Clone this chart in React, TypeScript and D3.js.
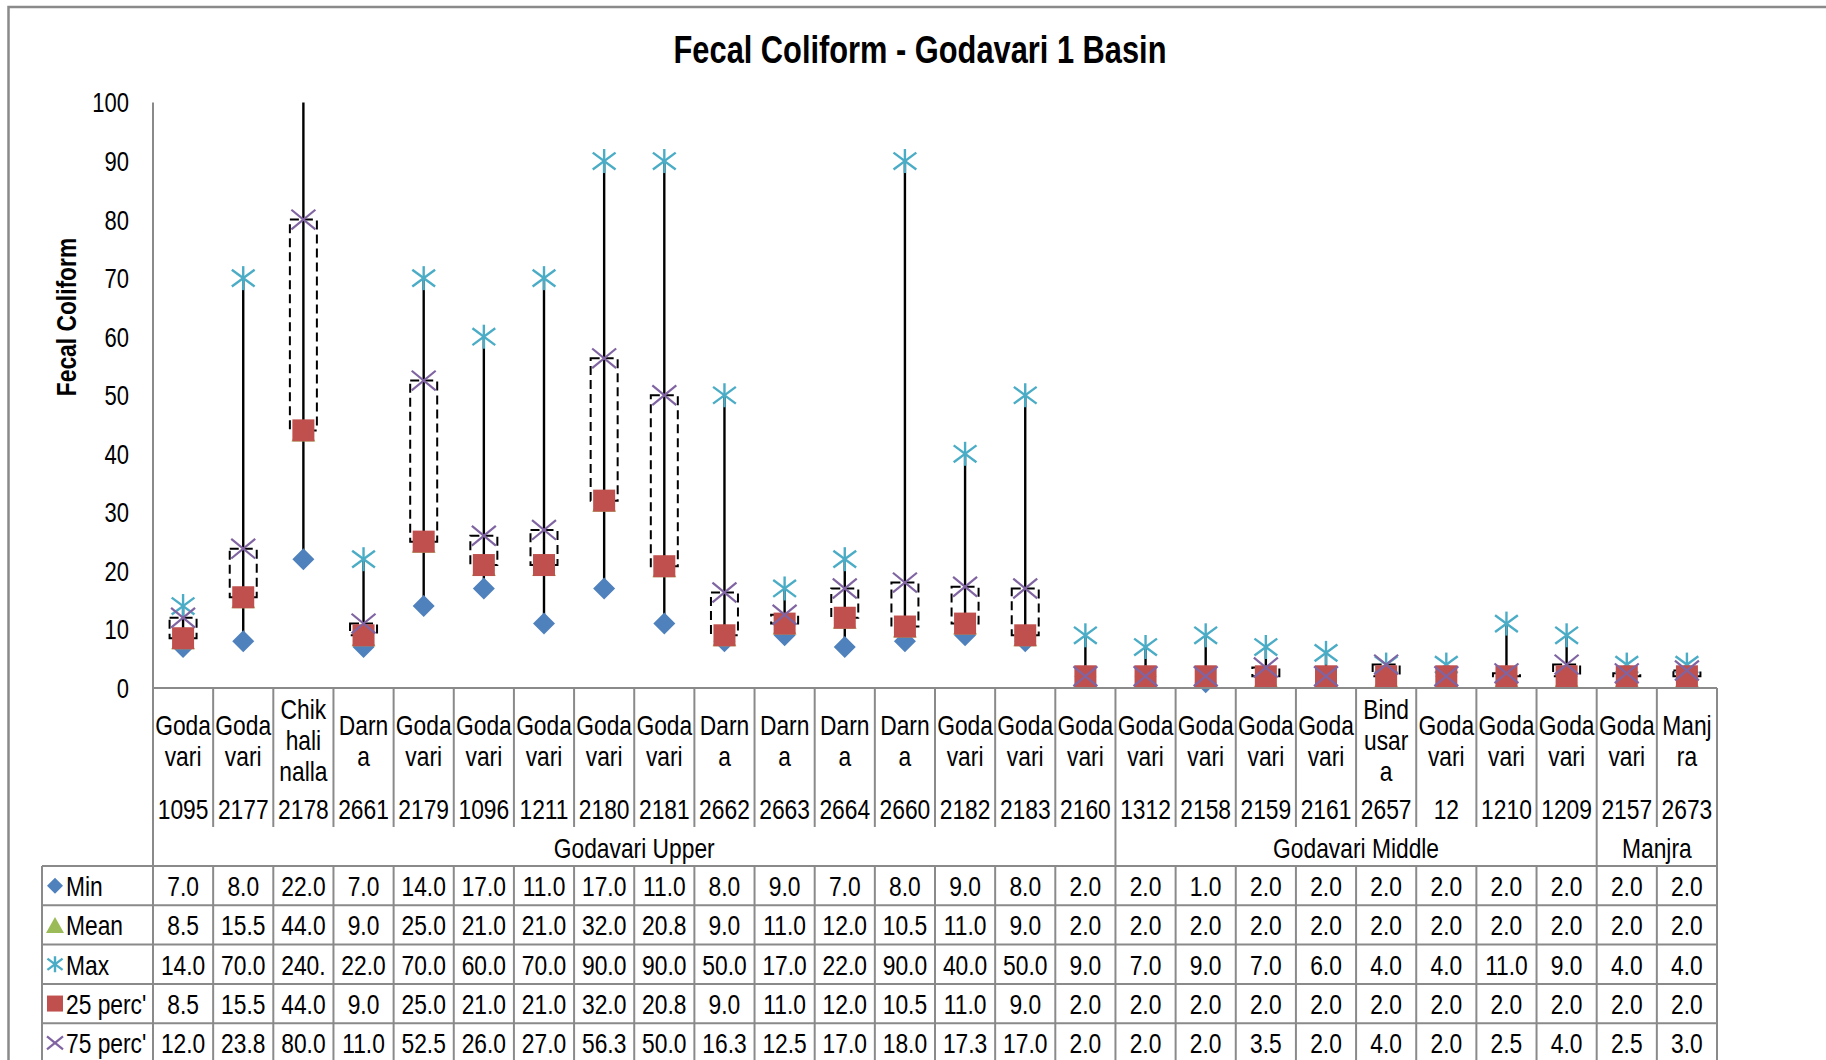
import React from 'react';
import * as d3 from 'd3';

// Station name lines (wrapped as shown in the category cells), codes and basin groups
const stationNames: string[][] = [
  ['Goda', 'vari'], ['Goda', 'vari'], ['Chik', 'hali', 'nalla'], ['Darn', 'a'],
  ['Goda', 'vari'], ['Goda', 'vari'], ['Goda', 'vari'], ['Goda', 'vari'],
  ['Goda', 'vari'], ['Darn', 'a'], ['Darn', 'a'], ['Darn', 'a'], ['Darn', 'a'],
  ['Goda', 'vari'], ['Goda', 'vari'], ['Goda', 'vari'],
  ['Goda', 'vari'], ['Goda', 'vari'], ['Goda', 'vari'], ['Goda', 'vari'],
  ['Bind', 'usar', 'a'], ['Goda', 'vari'], ['Goda', 'vari'], ['Goda', 'vari'],
  ['Goda', 'vari'], ['Manj', 'ra'],
];
const stationCodes = [
  '1095', '2177', '2178', '2661', '2179', '1096', '1211', '2180', '2181', '2662',
  '2663', '2664', '2660', '2182', '2183', '2160',
  '1312', '2158', '2159', '2161', '2657', '12', '1210', '1209',
  '2157', '2673',
];
const basinNames = ['Godavari Upper', 'Godavari Middle', 'Manjra'];
const basinCounts = [16, 8, 2];

const minValues = [7, 8, 22, 7, 14, 17, 11, 17, 11, 8, 9, 7, 8, 9, 8, 2, 2, 1, 2, 2, 2, 2, 2, 2, 2, 2];
const meanValues = [8.5, 15.5, 44, 9, 25, 21, 21, 32, 20.8, 9, 11, 12, 10.5, 11, 9, 2, 2, 2, 2, 2, 2, 2, 2, 2, 2, 2];
const maxValues = [14, 70, 240, 22, 70, 60, 70, 90, 90, 50, 17, 22, 90, 40, 50, 9, 7, 9, 7, 6, 4, 4, 11, 9, 4, 4];
const p25Values = [8.5, 15.5, 44, 9, 25, 21, 21, 32, 20.8, 9, 11, 12, 10.5, 11, 9, 2, 2, 2, 2, 2, 2, 2, 2, 2, 2, 2];
const p75Values = [12, 23.8, 80, 11, 52.5, 26, 27, 56.3, 50, 16.3, 12.5, 17, 18, 17.3, 17, 2, 2, 2, 3.5, 2, 4, 2, 2.5, 4, 2.5, 3];

const yTicks = [0, 10, 20, 30, 40, 50, 60, 70, 80, 90, 100];

const C_MIN = '#4F81BD';
const C_MEAN = '#9BBB59';
const C_MAX = '#4BACC6';
const C_P25 = '#C0504D';
const C_P75 = '#8064A2';
const GRID = '#8a8a8a';
const FONT = '"Liberation Sans", Arial, sans-serif';
const NARROW = 0.8;

type MarkerKind = 'diamond' | 'triangle' | 'star' | 'square' | 'cross';

function Marker({ kind, cx, cy, s }: { kind: MarkerKind; cx: number; cy: number; s: number }) {
  const r = s / 2;
  switch (kind) {
    case 'diamond':
      return <path d={`M${cx},${cy - r}L${cx + r},${cy}L${cx},${cy + r}L${cx - r},${cy}Z`} fill={C_MIN} />;
    case 'triangle':
      return <path d={`M${cx},${cy - r}L${cx + r + 1},${cy + r}L${cx - r - 1},${cy + r}Z`} fill={C_MEAN} />;
    case 'square':
      return <rect x={cx - r} y={cy - r} width={s} height={s} fill={C_P25} />;
    case 'star': {
      const dx = r * 0.95;
      const dy = r * 0.7;
      return (
        <g stroke={C_MAX} strokeWidth={2.4}>
          <line x1={cx} y1={cy - r} x2={cx} y2={cy + r} />
          <line x1={cx - dx} y1={cy - dy} x2={cx + dx} y2={cy + dy} />
          <line x1={cx - dx} y1={cy + dy} x2={cx + dx} y2={cy - dy} />
        </g>
      );
    }
    case 'cross':
    default:
      return (
        <g stroke={C_P75} strokeWidth={2.2}>
          <line x1={cx - r} y1={cy - r * 0.82} x2={cx + r} y2={cy + r * 0.82} />
          <line x1={cx - r} y1={cy + r * 0.82} x2={cx + r} y2={cy - r * 0.82} />
        </g>
      );
  }
}

// Condensed text: regular sans squeezed horizontally
function NText({
  x, y, size, anchor = 'middle', weight = 'normal', rotate = 0, children,
}: {
  x: number; y: number; size: number; anchor?: string; weight?: string; rotate?: number; children: React.ReactNode;
}) {
  return (
    <text
      transform={`translate(${x},${y}) rotate(${rotate}) scale(${NARROW},1)`}
      textAnchor={anchor}
      fontSize={size}
      fontWeight={weight}
      fontFamily={FONT}
      dy="0.36em"
      fill="#000"
    >
      {children}
    </text>
  );
}

const fmtCell = (v: number) => {
  const s = v.toFixed(1);
  return s.length > 4 ? s.slice(0, 4) : s;
};

export default function App() {
  const W = 1826;
  const H = 1060;
  const left = 153;
  const right = 1717;
  const plotTop = 102.5;
  const plotBottom = 688;
  const FS = 28.5;

  const idx = stationCodes.map((_, i) => i);
  const x = d3.scaleBand<number>().domain(idx).range([left, right]).padding(0);
  const bw = x.bandwidth();
  const cx = (i: number) => (x(i) as number) + bw / 2;
  const y = d3.scaleLinear().domain([0, 100]).range([plotBottom, plotTop]);
  const yc = (v: number) => y(Math.min(v, 100));

  const codeRowBottom = 827;
  const tableTop = 866;
  const rowH = 39.3;
  const tableLeft = 42;

  const series: { label: string; values: number[]; kind: MarkerKind }[] = [
    { label: 'Min', values: minValues, kind: 'diamond' },
    { label: 'Mean', values: meanValues, kind: 'triangle' },
    { label: 'Max', values: maxValues, kind: 'star' },
    { label: "25 perc'", values: p25Values, kind: 'square' },
    { label: "75 perc'", values: p75Values, kind: 'cross' },
  ];

  // group boundary indices
  const groupStarts: number[] = [];
  let acc = 0;
  basinCounts.forEach((c) => { groupStarts.push(acc); acc += c; });
  const boundarySet = new Set(groupStarts.slice(1));

  const colEdge = (i: number) => left + i * bw;

  return (
    <svg width={W} height={H} style={{ position: 'absolute', left: 0, top: 0, background: '#fff' }}>
      <rect x={0} y={0} width={W} height={H} fill="#fff" />
      {/* chart frame */}
      <rect x={8.5} y={7} width={W + 100} height={H + 100} fill="none" stroke={GRID} strokeWidth={2.5} />

      {/* title */}
      <NText x={920} y={49} size={38.5} weight="bold">Fecal Coliform - Godavari 1 Basin</NText>

      {/* y axis title */}
      <NText x={66} y={317} size={28.5} weight="bold" rotate={-90}>Fecal Coliform</NText>

      {/* y axis */}
      <line x1={left} y1={plotTop} x2={left} y2={plotBottom} stroke={GRID} strokeWidth={2} />
      {yTicks.map((t) => (
        <NText key={t} x={129} y={y(t)} size={27.5} anchor="end">{t}</NText>
      ))}

      {/* up/down boxes between 25th and 75th percentile */}
      {idx.map((i) => {
        const y1 = yc(p75Values[i]);
        const y2 = yc(p25Values[i]);
        return (
          <rect
            key={`box${i}`}
            x={cx(i) - 13.5}
            y={Math.min(y1, y2)}
            width={27}
            height={Math.abs(y2 - y1)}
            fill="none"
            stroke="#000"
            strokeWidth={2}
            strokeDasharray="9,5"
          />
        );
      })}

      {/* high-low lines */}
      {idx.map((i) => (
        <line
          key={`hl${i}`}
          x1={cx(i)}
          x2={cx(i)}
          y1={yc(minValues[i])}
          y2={yc(maxValues[i])}
          stroke="#000"
          strokeWidth={2.4}
        />
      ))}

      {/* markers */}
      {series.map((s) =>
        idx.map((i) =>
          s.values[i] <= 100 ? (
            <Marker
              key={`${s.label}${i}`}
              kind={s.kind}
              cx={cx(i)}
              cy={y(s.values[i])}
              s={s.kind === 'cross' ? 24 : s.kind === 'star' ? 24 : 22}
            />
          ) : null,
        ),
      )}

      {/* category axis line */}
      <line x1={left} y1={plotBottom} x2={right} y2={plotBottom} stroke={GRID} strokeWidth={2} />

      {/* category separators */}
      {d3.range(0, idx.length + 1).map((k) => {
        const edge = k === 0 || k === idx.length || boundarySet.has(k);
        return (
          <line
            key={`sep${k}`}
            x1={colEdge(k)}
            x2={colEdge(k)}
            y1={plotBottom}
            y2={edge ? tableTop : codeRowBottom}
            stroke={GRID}
            strokeWidth={2}
          />
        );
      })}

      {/* station names and codes */}
      {idx.map((i) => {
        const lines = stationNames[i];
        const lh = 31;
        const mid = 740;
        const start = mid - ((lines.length - 1) * lh) / 2;
        return (
          <g key={`cat${i}`}>
            {lines.map((ln, j) => (
              <NText key={j} x={cx(i)} y={start + j * lh} size={FS}>{ln}</NText>
            ))}
            <NText x={cx(i)} y={809} size={FS}>{stationCodes[i]}</NText>
          </g>
        );
      })}

      {/* basin group labels */}
      {basinNames.map((b, g) => {
        const a = colEdge(groupStarts[g]);
        const e = colEdge(groupStarts[g] + basinCounts[g]);
        return <NText key={b} x={(a + e) / 2} y={848} size={FS}>{b}</NText>;
      })}

      {/* data table */}
      {d3.range(0, series.length + 1).map((r) => (
        <line
          key={`hr${r}`}
          x1={tableLeft}
          x2={right}
          y1={tableTop + r * rowH}
          y2={tableTop + r * rowH}
          stroke={GRID}
          strokeWidth={2}
        />
      ))}
      <line x1={tableLeft} x2={tableLeft} y1={tableTop} y2={H + 5} stroke={GRID} strokeWidth={2} />
      {d3.range(0, idx.length + 1).map((k) => (
        <line
          key={`vc${k}`}
          x1={colEdge(k)}
          x2={colEdge(k)}
          y1={tableTop}
          y2={H + 5}
          stroke={GRID}
          strokeWidth={2}
        />
      ))}
      {series.map((s, r) => {
        const rowY = tableTop + r * rowH + rowH / 2;
        return (
          <g key={`row${s.label}`}>
            <Marker kind={s.kind} cx={55} cy={rowY} s={16} />
            <NText x={66} y={rowY} size={FS} anchor="start">{s.label}</NText>
            {idx.map((i) => (
              <NText key={i} x={cx(i)} y={rowY} size={FS}>{fmtCell(s.values[i])}</NText>
            ))}
          </g>
        );
      })}
    </svg>
  );
}
